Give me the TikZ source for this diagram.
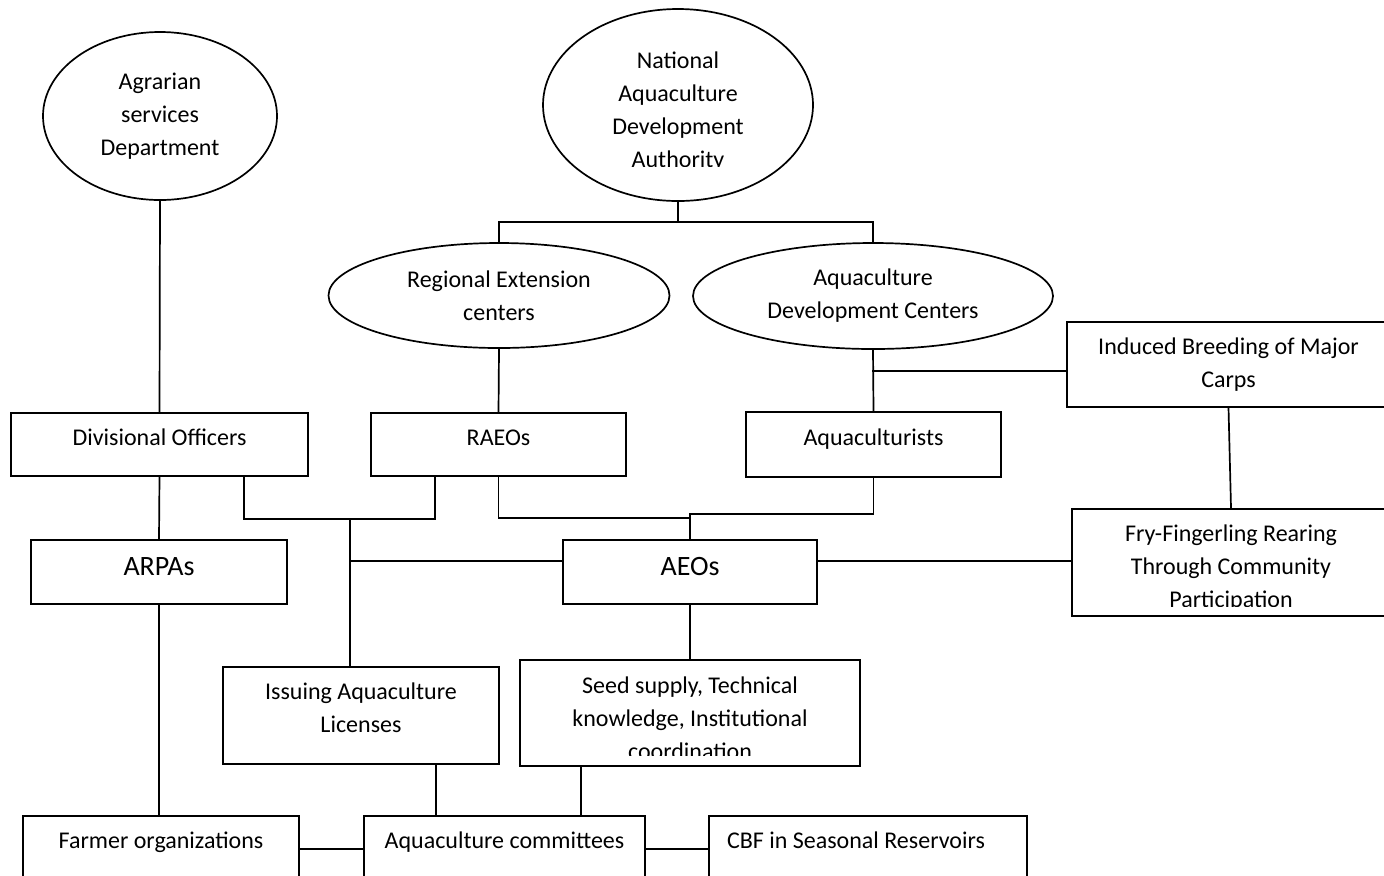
\documentclass[tikz,border=0pt]{standalone}
\usepackage{fontspec}
\setmainfont{Carlito}
\usetikzlibrary{positioning}
\usetikzlibrary{shapes.geometric}

\tikzset{
  box/.style={draw, line width=0.85pt, inner sep=0pt},
  oval/.style={draw, ellipse, line width=0.85pt, inner sep=0pt, align=center, font=\fontsize{12}{16.5}\selectfont},
  txt/.style={inner sep=0pt, align=center, font=\fontsize{12}{16.5}\selectfont},
  big/.style={inner sep=0pt, align=center, font=\fontsize{14}{17}\selectfont},
  link/.style={line width=0.85pt}
}

\begin{document}
\begin{tikzpicture}[x=0.5pt, y=-0.5pt]
\clip (0,0) rectangle (1384,875);
\fill[white] (0,0) rectangle (1384,875);

% ovals
\node[oval, minimum width=117pt, minimum height=84pt] (asd) at (160,116) {Agrarian\\services\\Department};
\node[oval, minimum width=135pt, minimum height=96pt] (nada) at (678,105) {};
\begin{scope}
\clip (540,0) rectangle (820,166);
\node[txt] (nadat) at (678,112) {National\\Aquaculture\\Development\\Authority};
\end{scope}
\node[oval, minimum width=170.5pt, minimum height=52.5pt] (rec) at (499,295.5) {Regional Extension\\centers};
\node[oval, minimum width=180pt, minimum height=53pt] (adc) at (873,296) {Aquaculture\\Development Centers};

% boxes, upper row
\node[box, minimum width=148.5pt, minimum height=31.5pt] (div) at (159.5,444.5) {};
\node[box, minimum width=127.5pt, minimum height=31.5pt] (raeo) at (498.5,444.5) {};
\node[box, minimum width=127.5pt, minimum height=32.5pt] (aqc) at (873.5,444.5) {};
\node[box, minimum width=161.5pt, minimum height=42.5pt] (ibm) at (1228.5,364.5) {};

% middle rows
\node[box, minimum width=128pt, minimum height=32pt] (arpa) at (159,572) {};
\node[box, minimum width=127pt, minimum height=32pt] (aeo) at (690,572) {};
\node[box, minimum width=159pt, minimum height=53.5pt] (fry) at (1231,562.5) {};
\node[box, minimum width=138pt, minimum height=48.5pt] (lic) at (361,715.5) {};
\node[box, minimum width=170pt, minimum height=53pt] (seed) at (690,713) {};

% bottom row
\node[box, minimum width=138pt, minimum height=42pt] (farm) at (161,858) {};
\node[box, minimum width=140.5pt, minimum height=42pt] (comm) at (504.5,858) {};
\node[box, minimum width=159pt, minimum height=42pt] (cbf) at (868,858) {};

% texts
\node[txt, below=8pt of div.north] (divt) {Divisional Officers};
\node[txt, below=8.5pt of raeo.north] (raeot) {RAEOs};
\node[txt, below=8.5pt of aqc.north] (aqct) {Aquaculturists};
\node[txt, below=8pt of ibm.north] (ibmt) {Induced Breeding of Major\\Carps};
\node[big, below=9pt of arpa.north] (arpat) {ARPAs};
\node[big, below=9pt of aeo.north] (aeot) {AEOs};
\begin{scope}
\clip (1072,509) rectangle (1390,606);
\node[txt, below=8pt of fry.north] (fryt) {Fry-Fingerling Rearing\\Through Community\\Participation};
\end{scope}
\node[txt, below=8pt of lic.north] (lict) {Issuing Aquaculture\\Licenses};
\begin{scope}
\clip (520,660) rectangle (860,755);
\node[txt, below=8.5pt of seed.north] (seedt) {Seed supply, Technical\\knowledge, Institutional\\coordination};
\end{scope}
\node[txt, below=8pt of farm.north] (farmt) {Farmer organizations};
\node[txt, below=8pt of comm.north] (commt) {Aquaculture committees};
\node[txt, below=8pt of cbf.north, xshift=-6pt] (cbft) {CBF in Seasonal Reservoirs};

% junctions
\coordinate (nadaj) at (678,222);
\coordinate (brd) at (872,371);
\coordinate (m1) at (690,514);
\coordinate (m2) at (690,518);
\coordinate (lk) at (350,519);
\coordinate (lh) at (350,561);
\coordinate (bl) at (0,849);
\coordinate (dl) at ([xshift=42.25pt]div.south);
\coordinate (rl) at ([xshift=-31.75pt]raeo.south);
\coordinate (lb) at ([xshift=37.5pt]lic.south);
\coordinate (sb) at ([xshift=-54.5pt]seed.south);

% links
\draw[link] (asd.south) -- (div.north);
\draw[link] (nada.south) -- (nadaj);
\draw[link] (rec.north) -- (rec.north |- nadaj) -- (adc.north |- nadaj) -- (adc.north);
\draw[link] (rec.south) -- (raeo.north);
\draw[link] (adc.south) -- (aqc.north);
\draw[link] (brd) -- (brd -| ibm.west);
\draw[link] (ibm.south) -- (fry.north);
\draw[link] (aqc.south) |- (m1) -- (aeo.north);
\draw[link] (raeo.south) |- (m2);
\draw[link] (dl) |- (lk) -| (rl);
\draw[link] (lk) -- (lk |- lic.north);
\draw[link] (lh) -- (lh -| aeo.west);
\draw[link] (lh -| aeo.east) -- (lh -| fry.west);
\draw[link] (div.south) -- (arpa.north);
\draw[link] (aeo.south) -- (seed.north);
\draw[link] (arpa.south) -- (arpa.south |- farm.north);
\draw[link] (lb) -- (lb |- comm.north);
\draw[link] (sb) -- (sb |- comm.north);
\draw[link] (bl -| farm.east) -- (bl -| comm.west);
\draw[link] (bl -| comm.east) -- (bl -| cbf.west);
\end{tikzpicture}
\end{document}
